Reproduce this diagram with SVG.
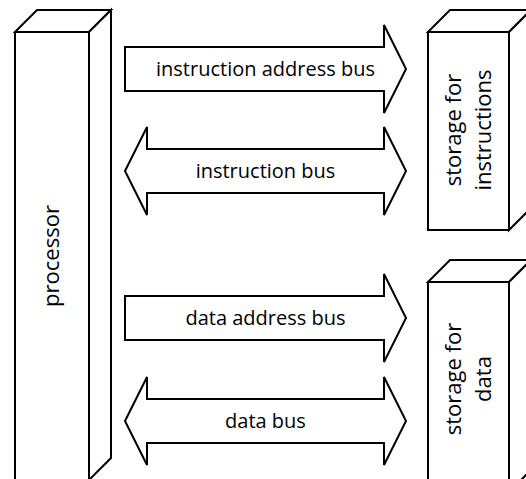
<svg xmlns="http://www.w3.org/2000/svg" width="526" height="479" viewBox="0 0 526 479">
<style>
.box{fill:#fff;stroke:#000;stroke-width:2;stroke-linejoin:miter}
.bus{fill:#fff;stroke:#000;stroke-width:2;stroke-linejoin:miter}
.lbl{font-family:"Open Sans","Liberation Sans",sans-serif;font-size:20px;fill:#000;text-anchor:middle}
.vlbl{font-family:"Open Sans","Liberation Sans",sans-serif;font-size:22px;fill:#000;text-anchor:middle}
</style>
<rect width="526" height="479" fill="#fff"/>
<g id="processor">
<rect class="box" x="15" y="32" width="74" height="460"/>
<polygon class="box" points="15,32 37,10 111,10 89,32"/>
<polygon class="box" points="89,32 111,10 111,458 89,480"/>
<text class="vlbl" transform="translate(59,256) rotate(-90)">processor</text>
</g>
<g id="storage-instructions">
<rect class="box" x="428" y="32" width="81" height="198"/>
<polygon class="box" points="428,32 450,10 531,10 509,32"/>
<polygon class="box" points="509,32 531,10 531,208 509,230"/>
<text class="vlbl" transform="translate(461,130) rotate(-90)">storage for</text>
<text class="vlbl" transform="translate(491,130) rotate(-90)">instructions</text>
</g>
<g id="storage-data">
<rect class="box" x="428" y="282" width="81" height="210"/>
<polygon class="box" points="428,282 450,260 531,260 509,282"/>
<polygon class="box" points="509,282 531,260 531,470 509,492"/>
<text class="vlbl" transform="translate(461,379) rotate(-90)">storage for</text>
<text class="vlbl" transform="translate(491,379) rotate(-90)">data</text>
</g>
<g id="connectors">
<g id="instruction-address-bus">
<path class="bus" d="M125,47 H384 V25 L406,69 L384,113 V91 H125 Z"/>
<text class="lbl" x="265.5" y="76">instruction address bus</text>
</g>
<g id="instruction-bus">
<path class="bus" d="M125,171 L147,127 V149 H384 V127 L406,171 L384,215 V193 H147 V215 Z"/>
<text class="lbl" x="265.5" y="178">instruction bus</text>
</g>
<g id="data-address-bus">
<path class="bus" d="M125,296 H384 V274 L406,318 L384,362 V340 H125 Z"/>
<text class="lbl" x="265.5" y="325">data address bus</text>
</g>
<g id="data-bus">
<path class="bus" d="M125,421 L147,377 V399 H384 V377 L406,421 L384,465 V443 H147 V465 Z"/>
<text class="lbl" x="265.5" y="428">data bus</text>
</g>
</g>
</svg>
